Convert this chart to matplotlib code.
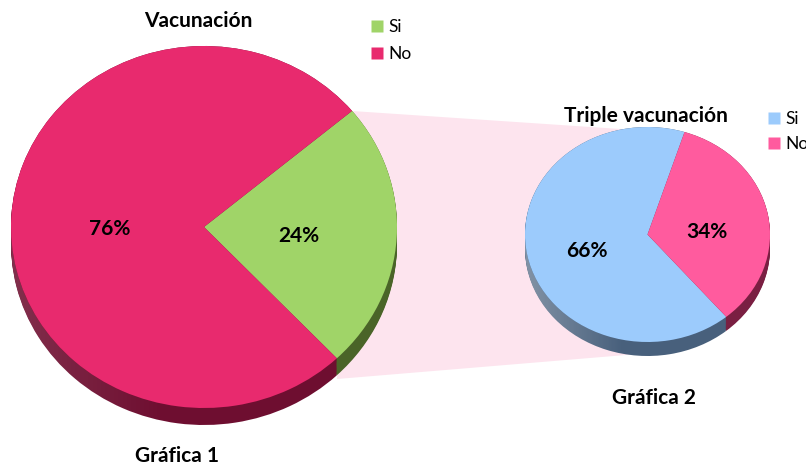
import numpy as np
import matplotlib
matplotlib.use("Agg")
import matplotlib.pyplot as plt
from matplotlib.patches import Polygon, PathPatch
from matplotlib.path import Path
from matplotlib.lines import Line2D

plt.rcParams['font.family'] = ['Lato', 'DejaVu Sans']

# --- data ---------------------------------------------------------------
labels = ["Si", "No"]
vacunacion = [24, 76]
triple = [66, 34]
title1 = "Vacunación"
title2 = "Triple vacunación"
caption1 = "Gráfica 1"
caption2 = "Gráfica 2"

# --- styling ------------------------------------------------------------
W, H = 806, 468
top1 = ["#A0D468", "#E82A6E"]
wall1 = ["#4A6428", "#6E0E30"]
top2 = ["#9CCBFC", "#FF5B9E"]
wall2 = ["#48607C", "#7A1F42"]

fig = plt.figure(figsize=(W / 100, H / 100), dpi=100)

# background layer in pixel units for the connector band
bg = fig.add_axes([0, 0, 1, 1], zorder=0)
bg.set_xlim(0, W)
bg.set_ylim(H, 0)
bg.axis("off")
bg.add_patch(Polygon([(352, 111), (650, 131), (650, 353), (337, 379)],
                     closed=True, facecolor="#FDE4EE", edgecolor="none"))


def pie_axes(cx, cy, rx, ry, depth):
    ax = fig.add_axes([(cx - rx) / W, (H - (cy + ry + depth)) / H,
                       2 * rx / W, (2 * ry + depth) / H], zorder=2)
    return ax, depth / ry


def wall_sheen(ax, dnorm, strength):
    """Soft light on the left side of the pie's rim."""
    t = np.linspace(np.pi, 2 * np.pi, 200)
    upper = np.column_stack([np.cos(t), np.sin(t)])
    lower = np.column_stack([np.cos(t[::-1]), np.sin(t[::-1]) - dnorm])
    verts = np.vstack([upper, lower, upper[:1]])
    clip = PathPatch(Path(verts, closed=True), facecolor="none",
                     edgecolor="none", transform=ax.transData)
    ax.add_patch(clip)
    xs = np.linspace(-1, 1, 256)
    alpha = np.clip((-0.2 - xs) / 0.8, 0, 1) * strength
    img = np.zeros((2, 256, 4))
    img[..., :3] = 1.0
    img[..., 3] = alpha
    im = ax.imshow(img, extent=(-1, 1, -1 - dnorm, 1), aspect="auto",
                   interpolation="bilinear", zorder=5)
    im.set_clip_path(clip)


def draw_3d_pie(ax, geom, values, start, tops, walls, label_px, sheen):
    cx, cy, rx, ry, depth = geom
    dnorm = depth / ry
    for d in np.linspace(dnorm, 0.0, 16):
        ax.pie(values, startangle=start, colors=walls, center=(0, -d),
               radius=1, wedgeprops=dict(linewidth=0))
    wall_sheen(ax, dnorm, sheen)
    wedges, _, autotexts = ax.pie(
        values, startangle=start, colors=tops, radius=1,
        autopct="%1.0f%%", wedgeprops=dict(linewidth=0, zorder=6),
        textprops=dict(fontsize=15, fontweight="bold", color="black",
                       zorder=7))
    for t, (px, py) in zip(autotexts, label_px):
        t.set_position(((px - cx) / rx, (cy - (py + 2)) / ry))
    ax.set_aspect("auto")
    ax.set_xlim(-1, 1)
    ax.set_ylim(-1 - dnorm, 1)
    ax.axis("off")
    return wedges


geom1 = (204, 227, 193, 181, 17)
ax1, _ = pie_axes(*geom1)
draw_3d_pie(ax1, geom1, vacunacion, -46.5, top1, wall1,
            [(299, 234), (110, 227)], 0.14)

geom2 = (647.5, 234.5, 122.5, 107.5, 14)
ax2, _ = pie_axes(*geom2)
draw_3d_pie(ax2, geom2, triple, 72.4, top2, wall2,
            [(587, 249), (707, 230)], 0.32)

# titles and captions
txt = dict(fontsize=15, fontweight="bold", ha="center", va="center")
fig.text(198 / W, 1 - 21 / H, title1, **txt)
fig.text(177 / W, 1 - 456 / H, caption1, **txt)
fig.text(646 / W, 1 - 116 / H, title2, **txt)
fig.text(654 / W, 1 - 398 / H, caption2, **txt)


def legend_for(colors, x, y, spacing):
    handles = [Line2D([], [], marker="s", linestyle="none", markersize=8,
                      markerfacecolor=c, markeredgecolor="none") for c in colors]
    fig.legend(handles, labels, loc="upper left",
               bbox_to_anchor=(x / W, 1 - y / H), frameon=False,
               fontsize=12.5, handlelength=0.6, handletextpad=0.35,
               labelspacing=spacing, borderpad=0, borderaxespad=0)


legend_for(top1, 372, 19, 0.62)
legend_for(top2, 769, 111, 0.5)

fig.savefig("out.png", dpi=100)
